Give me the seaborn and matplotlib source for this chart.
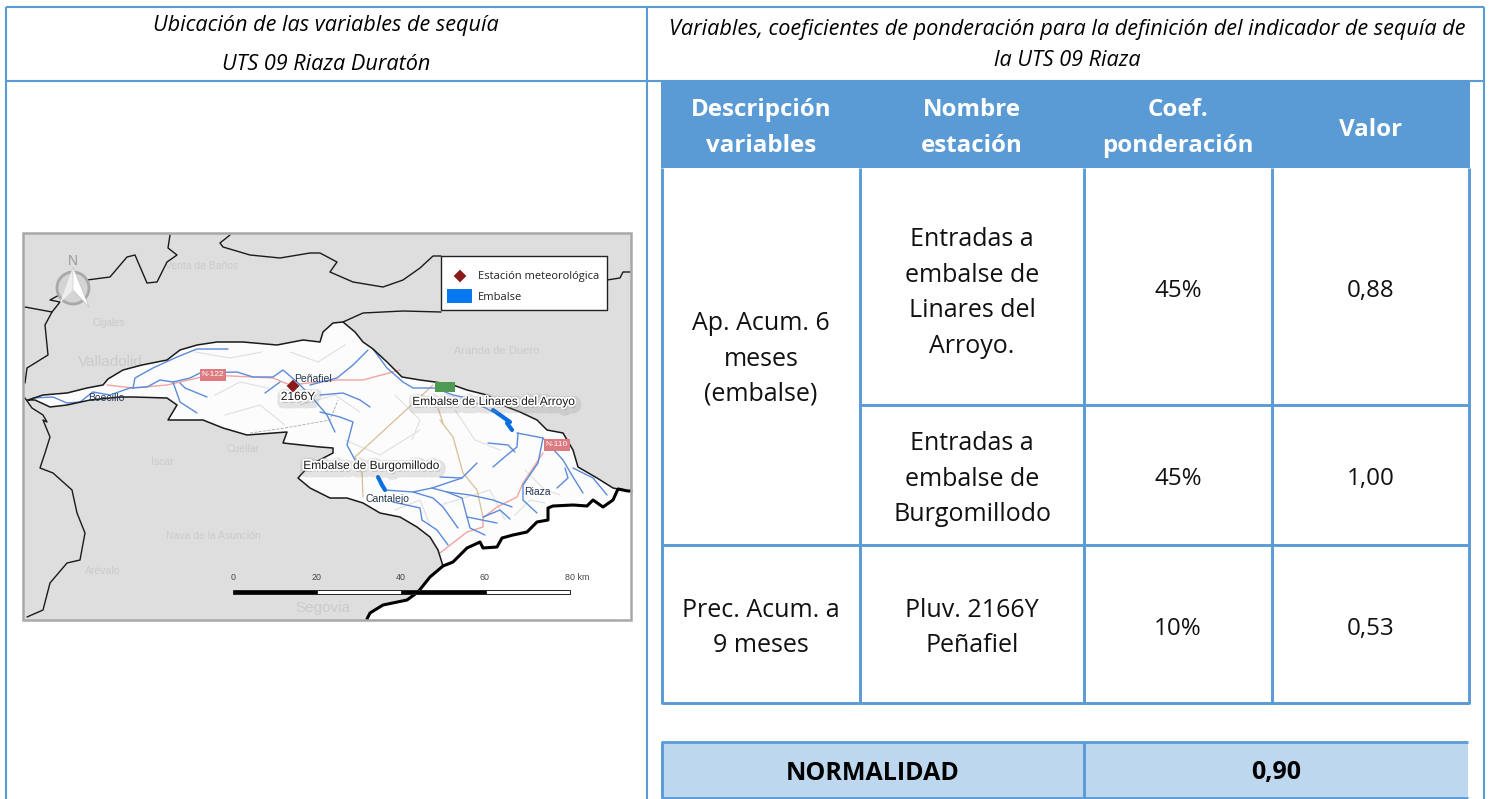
#!/usr/bin/env python3
"""Ficha de la UTS 09 Riaza Duratón: mapa de situación y tabla de ponderación"""

import matplotlib
matplotlib.use('Agg')
import matplotlib.pyplot as plt
import matplotlib.patheffects as pe
from matplotlib.patches import Circle, Polygon, Rectangle
import seaborn as sns

# ==================== tabla ====================
left_title = ['Ubicación de las variables de sequía', 'UTS 09 Riaza Duratón']
right_title = ['Variables, coeficientes de ponderación para la definición del indicador de sequía de',
               'la UTS 09 Riaza']
headers = ['Descripción\nvariables', 'Nombre\nestación', 'Coef.\nponderación', 'Valor']
variables = ['Ap. Acum. 6\nmeses\n(embalse)', 'Prec. Acum. a\n9 meses']
stations = ['Entradas a\nembalse de\nLinares del\nArroyo.', 'Entradas a\nembalse de\nBurgomillodo',
            'Pluv. 2166Y\nPeñafiel']
coefs = ['45%', '45%', '10%']
values = ['0,88', '1,00', '0,53']
status_label = 'NORMALIDAD'
status_value = '0,90'

# ==================== mapa ====================
basin = [(28, 400), (43, 395), (67, 393), (87, 388), (103, 385), (108, 379), (123, 370), (142, 365),
         (167, 360), (180, 350), (197, 345), (217, 342), (243, 342), (277, 345), (303, 340), (320, 342),
         (323, 332), (333, 323), (343, 322), (355, 332), (363, 342), (373, 349), (387, 362), (402, 377),
         (420, 380), (435, 382), (453, 385), (467, 390), (487, 395), (507, 407), (520, 412), (537, 420),
         (547, 430), (563, 433), (573, 450), (578, 467), (597, 478), (613, 488), (618, 489), (613, 500),
         (603, 507), (593, 500), (587, 506), (573, 505), (553, 506), (548, 508), (548, 520), (537, 522),
         (527, 532), (513, 535), (502, 538), (497, 547), (483, 548), (480, 542), (467, 548), (453, 562),
         (443, 566), (438, 550), (430, 537), (417, 527), (400, 517), (380, 513), (363, 503), (347, 498),
         (330, 498), (310, 488), (298, 478), (310, 465), (333, 453), (333, 448), (320, 447), (283, 443),
         (287, 432), (247, 435), (223, 428), (203, 420), (168, 420), (177, 405), (167, 398), (133, 397),
         (120, 397), (90, 400), (67, 405), (50, 407), (35, 400), (28, 400)]
coast = [(631, 491), (628, 491), (618, 489), (613, 500), (603, 507), (593, 500), (587, 506), (573, 505),
         (553, 506), (548, 508), (548, 520), (537, 522), (527, 532), (513, 535), (502, 538), (497, 547),
         (483, 548), (480, 542), (467, 548), (453, 562), (443, 566), (430, 577), (418, 592), (407, 600),
         (383, 605), (370, 613), (367, 619)]
borders = [
    [(25, 307), (52, 312), (60, 302), (50, 300), (63, 293), (87, 280), (110, 277), (127, 257), (135, 255),
     (147, 283), (157, 282), (167, 262), (177, 255), (168, 248), (170, 235)],
    [(52, 312), (45, 325), (48, 355), (27, 368), (25, 383)],
    [(230, 235), (220, 243), (223, 247), (250, 255), (280, 258), (310, 253), (320, 253), (337, 262), (330, 272),
     (353, 282), (383, 287), (403, 280), (420, 268), (433, 256), (441, 256)],
    [(441, 312), (403, 311), (363, 313), (343, 322)],
    [(607, 280), (620, 278), (623, 272), (630, 272)],
    [(25, 398), (32, 408), (43, 415), (47, 422), (43, 420), (50, 437), (45, 453), (40, 468), (53, 473),
     (72, 490), (77, 513), (85, 533), (80, 560), (67, 563), (50, 583), (43, 610), (27, 617)],
]
rivers = [
    [(133, 388), (135, 378), (153, 368), (177, 357), (197, 349), (228, 349)],
    [(33, 398), (53, 397), (67, 403), (80, 402), (93, 392), (110, 395), (130, 388), (147, 387), (160, 380),
     (173, 382), (190, 378), (200, 373), (237, 372), (253, 377), (273, 377), (283, 370), (297, 382),
     (310, 395), (327, 415), (335, 432)],
    [(173, 382), (180, 402), (197, 413)],
    [(180, 383), (185, 388), (207, 397)],
    [(265, 393), (280, 382)],
    [(368, 350), (353, 365), (337, 378), (310, 385)],
    [(373, 349), (387, 368), (403, 382), (413, 388), (435, 388), (453, 395), (467, 398), (493, 412)],
    [(320, 395), (343, 393), (360, 400), (370, 407)],
    [(320, 412), (340, 417), (353, 422), (347, 445), (355, 460)],
    [(517, 433), (543, 438), (563, 460), (573, 477), (583, 493)],
    [(573, 468), (593, 478), (607, 495)],
    [(565, 468), (568, 478), (557, 488)],
    [(543, 438), (538, 463), (523, 485), (523, 500), (537, 513)],
    [(518, 433), (517, 447), (507, 455), (493, 467)],
    [(488, 443), (508, 445), (515, 452)],
    [(440, 477), (462, 478), (477, 463)],
    [(462, 478), (432, 488)],
    [(385, 490), (413, 492), (432, 488), (447, 492), (470, 495), (493, 500), (512, 507)],
    [(413, 492), (433, 498), (443, 507), (458, 528)],
    [(447, 492), (462, 498), (467, 517), (470, 528), (485, 535)],
    [(467, 517), (497, 523)],
    [(483, 517), (500, 510), (510, 519)],
    [(393, 502), (420, 508), (422, 520), (437, 530), (448, 545)],
]
reservoirs = [[(493, 410), (510, 422), (507, 423), (512, 430)], [(378, 477), (382, 485), (385, 490)]]
main_roads = [
    [(107, 385), (133, 388), (167, 385), (210, 375), (273, 378), (290, 385), (337, 380), (363, 380), (400, 370)],
    [(440, 553), (467, 532), (483, 527), (483, 518), (497, 507), (517, 497), (523, 483), (543, 453)],
]
minor_roads = [
    [(440, 420), (453, 437), (463, 473), (477, 490), (483, 517)],
    [(362, 473), (363, 497)],
    [(433, 385), (393, 422), (355, 457), (362, 473)],
    [(438, 408), (443, 423)],
]
relief = [
    [(215, 395), (240, 382), (268, 388)], [(195, 352), (230, 358), (262, 352)], [(290, 352), (318, 362), (345, 345)],
    [(300, 405), (335, 395), (360, 412)], [(395, 395), (420, 420), (412, 440)], [(455, 410), (475, 440), (500, 450)],
    [(345, 440), (380, 455), (420, 430)], [(525, 470), (545, 490), (560, 495)], [(440, 505), (490, 490), (505, 520)],
    [(225, 415), (260, 405), (285, 425)], [(515, 515), (530, 500), (545, 503)], [(395, 510), (420, 500), (430, 525)],
]
bg_labels = [('Venta de Baños', 202, 266, 7.5), ('Cigales', 109, 323, 7), ('Valladolid', 110, 362, 11),
             ('Aranda de Duero', 497, 351, 8), ('Cuéllar', 243, 449, 7.5), ('Iscar', 162, 462, 7.5),
             ('Nava de la Asunción', 213, 536, 7.5), ('Arévalo', 103, 571, 7.5), ('Segovia', 323, 608, 11)]
town_labels = [('Peñafiel', 313, 379), ('Boecillo', 106, 398), ('Riaza', 537, 492), ('Cantalejo', 387, 499)]
halo_labels = [('2166Y', 298, 397), ('Embalse de Linares del Arroyo', 493, 402), ('Embalse de Burgomillodo', 371, 466)]
road_signs = [('N-122', 213, 375), ('N-110', 557, 445)]
scale_ticks = ['0', '20', '40', '60', '80 km']
scale_pos = [233, 317, 401, 485, 577]
scale_edges = [233, 317, 401, 486, 570]
station_x = [293]
station_y = [386]
legend_station = 'Estación meteorológica'
legend_reservoir = 'Embalse'

BLUE = '#5b9bd5'
LIGHT = '#bdd7ee'
BODY = 'Open Sans'
MAP_FONT = 'Liberation Sans'

sns.set_theme(style='white')
plt.rcParams['font.family'] = [BODY, 'DejaVu Sans']

fig = plt.figure(figsize=(14.93, 7.99), dpi=100)
ax = fig.add_axes([0, 0, 1, 1])
ax.set_xlim(0, 1493)
ax.set_ylim(799, 0)
ax.axis('off')


def trace(points, color, lw, z=3, ls='-'):
    xs = [p[0] for p in points]
    ys = [p[1] for p in points]
    sns.lineplot(x=xs, y=ys, sort=False, estimator=None, color=color, linewidth=lw,
                 linestyle=ls, ax=ax, zorder=z, legend=False)


# ==================== mapa ====================
ax.add_patch(Rectangle((23, 233), 608, 387, fc='#dedede', ec='none', zorder=1))
ax.add_patch(Polygon(coast + [(631, 620), (631, 491)], fc='white', ec='none', zorder=1.5))
ax.add_patch(Polygon(basin, fc='#fcfcfc', ec='none', zorder=1.6))
for line in relief:
    trace(line, '#e2e2e2', 0.9, z=1.7)
trace([(250, 433), (285, 428), (330, 420), (338, 400)], '#a8a8a8', 0.6, z=2, ls='--')
for line in minor_roads:
    trace(line, '#d8bd96', 0.9, z=2.2)
for line in main_roads:
    trace(line, '#f2a3a3', 1.0, z=2.3)
for line in rivers:
    trace(line, '#5a8bda', 1.0, z=2.5)
for line in reservoirs:
    trace(line, '#0a6ee0', 3, z=2.6)
for line in borders:
    trace(line, '#1a1a1a', 1.0, z=3)
trace(basin, '#1a1a1a', 1.1, z=3)
trace(coast, '#000000', 2.2, z=3.1)
ax.add_patch(Rectangle((435, 382), 20, 10, fc='#4f9a52', ec='none', zorder=3.2))
ax.add_patch(Rectangle((23, 233), 608, 387, fc='none', ec='#a8a8a8', lw=1.8, zorder=3.5))

for label, x, y, size in bg_labels:
    ax.text(x, y, label, color='#cbcbcb', fontsize=size, family=MAP_FONT, ha='center', va='center', zorder=1.2)
for label, x, y in town_labels:
    ax.text(x, y, label, color='#26364f', fontsize=7.5, family=MAP_FONT, ha='center', va='center', zorder=4)
halo = [pe.Stroke(linewidth=8, foreground='#8c8c8c', alpha=0.22, offset=(1, -2)),
        pe.Stroke(linewidth=2.5, foreground='white'), pe.Normal()]
for label, x, y in halo_labels:
    ax.text(x, y, label, color='#1a1a1a', fontsize=8.6, family=MAP_FONT, ha='center', va='center',
            zorder=4, path_effects=halo)
for label, x, y in road_signs:
    ax.text(x, y, label, color='white', fontsize=6, family=MAP_FONT, ha='center', va='center', zorder=4,
            bbox=dict(boxstyle='square,pad=0.25', fc='#dd7b80', ec='none'))
sns.scatterplot(x=station_x, y=station_y, marker='D', s=42, color='#8b1a1a', edgecolor='none', ax=ax,
                zorder=4, legend=False)

# norte
ax.add_patch(Circle((73, 288), 16, fc='#d4d4d4', ec='#a8a8a8', lw=2, zorder=3.6))
ax.add_patch(Polygon([(73, 267), (60, 303), (73, 290)], fc='#eeeeee', ec='none', zorder=3.7))
ax.add_patch(Polygon([(73, 267), (89, 307), (73, 290)], fc='white', ec='#bdbdbd', lw=0.4, zorder=3.7))
ax.text(73, 261, 'N', color='#9a9a9a', fontsize=10, family=MAP_FONT, ha='center', va='center', zorder=3.8)

# escala
for i, label in enumerate(scale_ticks):
    ax.text(scale_pos[i], 577, label, color='#444444', fontsize=6.4, family=MAP_FONT, ha='center', va='center', zorder=4)
for i in range(4):
    ax.add_patch(Rectangle((scale_edges[i], 590), scale_edges[i + 1] - scale_edges[i], 4,
                           fc='black' if i % 2 == 0 else 'white', ec='#222222', lw=0.7, zorder=3.9))

# leyenda del mapa
ax.add_patch(Rectangle((441, 256), 166, 54, fc='white', ec='#222222', lw=1, zorder=5))
sns.scatterplot(x=[460], y=[276], marker='D', s=42, color='#8b1a1a', edgecolor='none', ax=ax, zorder=6, legend=False)
ax.add_patch(Rectangle((447, 289), 25, 14, fc='#0a78f0', ec='none', zorder=6))
ax.text(478, 276, legend_station, fontsize=8, color='#222222', va='center', zorder=6)
ax.text(478, 297, legend_reservoir, fontsize=8, color='#222222', va='center', zorder=6)

# ==================== marco general ====================
ax.hlines([7, 81], 6, 1484, color=BLUE, lw=1.5, zorder=2)
ax.vlines([6, 647, 1484], 7, 799, color=BLUE, lw=1.5, zorder=2)
ax.text(326, 26, left_title[0], fontsize=15.6, style='italic', ha='center', va='center', color='black', zorder=7)
ax.text(326, 64, left_title[1], fontsize=15.6, style='italic', ha='center', va='center', color='black', zorder=7)
ax.text(1067, 29, right_title[0], fontsize=15.6, style='italic', ha='center', va='center', color='black', zorder=7)
ax.text(1067, 61, right_title[1], fontsize=15.6, style='italic', ha='center', va='center', color='black', zorder=7)

# ==================== tabla derecha ====================
cols = [662, 860, 1084, 1272, 1469]
rows = [168, 405, 545, 703]
header_mid = [128, 128, 128, 130]
ax.add_patch(Rectangle((661, 80), 809, 88, fc=BLUE, ec='none', zorder=3))
for i, label in enumerate(headers):
    ax.text((cols[i] + cols[i + 1]) / 2, header_mid[i], label, color='white', fontsize=17.4, fontweight='bold',
            ha='center', va='center', linespacing=1.65, zorder=7)
ax.hlines(rows[1:], cols[1], cols[4], color=BLUE, lw=2.1, zorder=4)
ax.hlines(rows[2:], cols[0], cols[1], color=BLUE, lw=2.1, zorder=4)
ax.vlines(cols, rows[0], rows[3] + 1, color=BLUE, lw=2.1, zorder=4)

ax.text((cols[0] + cols[1]) / 2, 359, variables[0], fontsize=18, ha='center', va='center', linespacing=1.55, color='#111111', zorder=7)
ax.text((cols[0] + cols[1]) / 2, 628, variables[1], fontsize=18, ha='center', va='center', linespacing=1.55, color='#111111', zorder=7)
station_y_mid = [293, 479, 628]
value_y_mid = [291, 479, 629]
for i in range(3):
    ax.text((cols[1] + cols[2]) / 2, station_y_mid[i], stations[i], fontsize=18, ha='center', va='center', linespacing=1.55, color='#111111', zorder=7)
    ax.text((cols[2] + cols[3]) / 2, value_y_mid[i], coefs[i], fontsize=17.4, ha='center', va='center', color='#111111', zorder=7)
    ax.text((cols[3] + cols[4]) / 2, value_y_mid[i], values[i], fontsize=17.4, ha='center', va='center', color='#111111', zorder=7)

# resultado
ax.add_patch(Rectangle((662, 743), 806, 55, fc=LIGHT, ec='none', zorder=3))
ax.hlines([742, 798], 661, 1468, color=BLUE, lw=2.0, zorder=4)
ax.vlines([662, 1084], 742, 798, color=BLUE, lw=2.1, zorder=4)
ax.text(873, 773, status_label, fontsize=18, fontweight='bold', ha='center', va='center', color='black', zorder=7)
ax.text(1276, 773, status_value, fontsize=18, fontweight='bold', ha='center', va='center', color='black', zorder=7)

fig.savefig('out.png', dpi=100, facecolor='white')
